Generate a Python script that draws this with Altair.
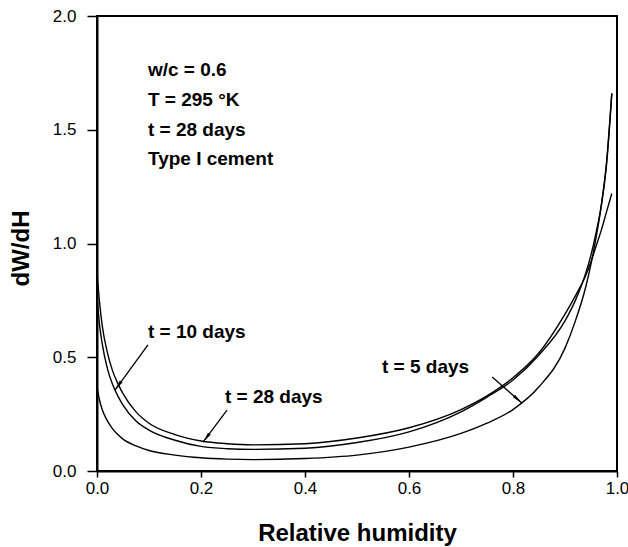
import math
import altair as alt
import pandas as pd

# ---- data ----
rh = [0.0, 0.005, 0.01, 0.02, 0.03, 0.04, 0.05, 0.075, 0.1, 0.15, 0.2, 0.25, 0.3,
      0.4, 0.5, 0.6, 0.7, 0.75, 0.8, 0.85, 0.9, 0.92, 0.94, 0.95, 0.96, 0.97, 0.98, 0.99]
dwdh_28 = [0.87, 0.74, 0.64, 0.52, 0.44, 0.385, 0.34, 0.26, 0.21, 0.16, 0.132, 0.12, 0.115,
           0.12, 0.145, 0.19, 0.27, 0.33, 0.41, 0.52, 0.69, 0.77, 0.86, 0.92, 0.99, 1.06, 1.14, 1.22]
dwdh_10 = [0.77, 0.64, 0.56, 0.45, 0.38, 0.33, 0.29, 0.22, 0.18, 0.135, 0.108, 0.098, 0.095,
           0.10, 0.125, 0.172, 0.26, 0.325, 0.40, 0.51, 0.66, 0.75, 0.87, 0.95, 1.05, 1.17, 1.35, 1.66]
dwdh_5 = [0.37, 0.31, 0.27, 0.22, 0.185, 0.16, 0.14, 0.11, 0.09, 0.07, 0.058, 0.052, 0.05,
          0.055, 0.07, 0.105, 0.165, 0.21, 0.27, 0.37, 0.54, 0.66, 0.81, 0.91, 1.03, 1.17, 1.36, 1.66]
series_names = ["t = 28 days", "t = 10 days", "t = 5 days"]

x_ticks = [0.0, 0.2, 0.4, 0.6, 0.8, 1.0]
y_ticks = [0.0, 0.5, 1.0, 1.5, 2.0]

info_lines = ["w/c = 0.6", "T = 295 °K", "t = 28 days", "Type I cement"]
info_x = [0.098, 0.098, 0.098, 0.098]
info_y = [1.763, 1.631, 1.499, 1.371]

label_text = ["t = 10 days", "t = 28 days", "t = 5 days"]
label_x = [0.098, 0.246, 0.548]
label_y = [0.611, 0.325, 0.457]

arrow_x0 = [0.098, 0.250, 0.760]
arrow_y0 = [0.554, 0.268, 0.413]
arrow_x1 = [0.0346, 0.204, 0.817]
arrow_y1 = [0.356, 0.127, 0.299]

# ---- layout ----
W, H = 520, 455
FONT = "Liberation Sans"

rows = []
for name, vals in zip(series_names, [dwdh_28, dwdh_10, dwdh_5]):
    for xv, yv in zip(rh, vals):
        rows.append({"h": xv, "v": yv, "s": name})
df = pd.DataFrame(rows)

xs = alt.Scale(domain=[0, 1], nice=False, zero=False)
ys = alt.Scale(domain=[0, 2], nice=False, zero=False)

curves = alt.Chart(df).mark_line(color="black", strokeWidth=1.4, interpolate="monotone").encode(
    x=alt.X("h:Q", scale=xs, title="Relative humidity",
            axis=alt.Axis(values=x_ticks, format=".1f", tickSize=6, labelPadding=3,
                          labelFlush=False,
                          titleY=69, titleBaseline="alphabetic")),
    y=alt.Y("v:Q", scale=ys, title="dW/dH",
            axis=alt.Axis(values=y_ticks, format=".1f", tickSize=10, labelPadding=11,
                          labelFlush=False,
                          titleAngle=270, titleAlign="center", titleBaseline="middle",
                          titleX=-76, titleY=232)),
    detail="s:N",
)

info_df = pd.DataFrame({"x": info_x, "y": info_y, "t": info_lines})
info = alt.Chart(info_df).mark_text(align="left", baseline="middle", font=FONT,
                                    fontWeight="bold", fontSize=19, color="black").encode(
    x=alt.X("x:Q", scale=xs), y=alt.Y("y:Q", scale=ys), text="t:N")

lab_df = pd.DataFrame({"x": label_x, "y": label_y, "t": label_text})
labels = alt.Chart(lab_df).mark_text(align="left", baseline="middle", font=FONT,
                                     fontWeight="bold", fontSize=19, color="black").encode(
    x=alt.X("x:Q", scale=xs), y=alt.Y("y:Q", scale=ys), text="t:N")

angles = []
for a0, b0, a1, b1 in zip(arrow_x0, arrow_y0, arrow_x1, arrow_y1):
    dx = (a1 - a0) * W
    dy = -(b1 - b0) * H / 2
    ang = math.degrees(math.atan2(dx, -dy)) % 360
    angles.append(ang)

arr_df = pd.DataFrame({"x": arrow_x0, "y": arrow_y0, "x2": arrow_x1, "y2": arrow_y1, "ang": angles})
shafts = alt.Chart(arr_df).mark_rule(color="black", strokeWidth=1.3).encode(
    x=alt.X("x:Q", scale=xs), y=alt.Y("y:Q", scale=ys), x2="x2:Q", y2="y2:Q")
heads = alt.Chart(arr_df).mark_point(shape="M0,0L0.32,2L-0.32,2Z", filled=True, color="black",
                                     opacity=1, size=110, strokeWidth=0).encode(
    x=alt.X("x2:Q", scale=xs), y=alt.Y("y2:Q", scale=ys),
    angle=alt.Angle("ang:Q", scale=None))

chart = alt.layer(curves, info, labels, shafts, heads).properties(
    width=W, height=H,
    background="white",
    autosize=alt.AutoSizeParams(type="none"),
    padding={"left": 97, "top": 16, "right": 11, "bottom": 76},
).configure_view(stroke="black", strokeWidth=2).configure_axis(
    grid=False, domainColor="black", domainWidth=2, tickColor="black", tickWidth=1.5,
    labelFont=FONT, labelFontSize=17, labelColor="black",
    titleFont=FONT, titleFontSize=24, titleFontWeight="bold", titleColor="black",
)

chart.save("out.html", embed_options={"renderer": "svg", "actions": False})
